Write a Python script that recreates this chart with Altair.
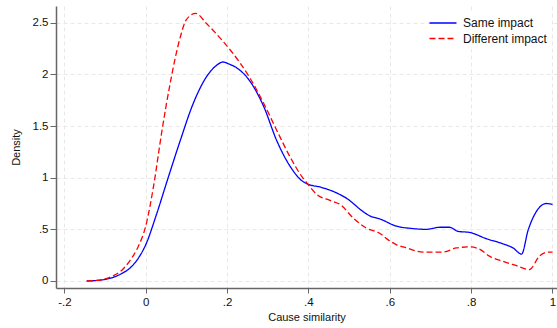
import altair as alt
import pandas as pd

# Same impact (blue solid)
same_x = [-0.145, -0.12, -0.1, -0.08, -0.06, -0.04, -0.02, 0.0, 0.027, 0.052, 0.085, 0.117,
          0.15, 0.175, 0.19, 0.205, 0.225, 0.257, 0.29, 0.322, 0.355, 0.384, 0.4, 0.428,
          0.465, 0.494, 0.535, 0.551, 0.576, 0.617, 0.65, 0.69, 0.723, 0.747, 0.768, 0.796,
          0.837, 0.878, 0.903, 0.924, 0.94, 0.96, 0.985, 1.0]
same_y = [0.0, 0.005, 0.015, 0.035, 0.07, 0.12, 0.21, 0.35, 0.65, 0.96, 1.36, 1.72,
          1.98, 2.09, 2.12, 2.10, 2.06, 1.93, 1.69, 1.36, 1.11, 0.97, 0.935, 0.91,
          0.86, 0.80, 0.67, 0.63, 0.60, 0.53, 0.51, 0.50, 0.52, 0.52, 0.48, 0.47,
          0.41, 0.36, 0.32, 0.26, 0.49, 0.67, 0.75, 0.74]

# Different impact (red dashed)
diff_x = [-0.145, -0.12, -0.1, -0.08, -0.06, -0.04, -0.02, 0.0, 0.019, 0.039, 0.06, 0.085,
          0.1, 0.123, 0.15, 0.19, 0.232, 0.257, 0.29, 0.322, 0.355, 0.384, 0.4, 0.42,
          0.453, 0.478, 0.51, 0.543, 0.576, 0.592, 0.617, 0.641, 0.682, 0.731, 0.764,
          0.796, 0.82, 0.845, 0.878, 0.91, 0.943, 0.968, 0.989, 1.0]
diff_y = [0.0, 0.005, 0.02, 0.05, 0.1, 0.19, 0.32, 0.53, 0.91, 1.43, 1.91, 2.36,
          2.53, 2.59, 2.49, 2.32, 2.11, 1.96, 1.72, 1.46, 1.20, 1.01, 0.93, 0.84,
          0.78, 0.74, 0.61, 0.51, 0.46, 0.41, 0.35, 0.32, 0.28, 0.28, 0.32,
          0.33, 0.31, 0.24, 0.19, 0.15, 0.11, 0.24, 0.28, 0.28]

series = ["Same impact", "Different impact"]
x_ticks = [-0.2, 0, 0.2, 0.4, 0.6, 0.8, 1.0]
y_ticks = [0, 0.5, 1, 1.5, 2, 2.5]

df = pd.concat([
    pd.DataFrame({"x": same_x, "y": same_y, "s": series[0], "o": 0}),
    pd.DataFrame({"x": diff_x, "y": diff_y, "s": series[1], "o": 1}),
])

stata_fmt = ("datum.value == 0 ? '0' : (abs(datum.value) < 1 ? "
             "(datum.value < 0 ? '-' : '') + substring(format(abs(datum.value), '.1f'), 1) "
             ": format(datum.value, '~g'))")

chart = alt.Chart(df).mark_line(strokeWidth=1.3, interpolate="monotone", clip=True).encode(
    x=alt.X("x:Q", title="Cause similarity",
            scale=alt.Scale(domain=[-0.2205, 1.0111], nice=False, zero=False),
            axis=alt.Axis(values=x_ticks, labelExpr=stata_fmt, tickSize=5,
                          labelPadding=3, titlePadding=4)),
    y=alt.Y("y:Q", title="Density",
            scale=alt.Scale(domain=[-0.068, 2.662], nice=False, zero=False),
            axis=alt.Axis(values=y_ticks, labelExpr=stata_fmt, tickSize=6,
                          labelPadding=2, titlePadding=11)),
    color=alt.Color("s:N", title=None,
                    scale=alt.Scale(domain=series, range=["#0000ff", "#ff0000"]),
                    legend=alt.Legend(orient="none", legendX=377, legendY=7,
                                      symbolType="M-4,0H4", symbolSize=45.6,
                                      symbolStrokeWidth=1.3, labelOffset=14,
                                      labelFontSize=12, labelFont="Liberation Sans",
                                      labelColor="#111", fillColor="white",
                                      padding=4, rowPadding=3.5)),
    strokeDash=alt.StrokeDash("s:N", title=None,
                              scale=alt.Scale(domain=series, range=[[1, 0], [6, 3]])),
    order="o:Q",
    detail="s:N",
).properties(
    width=501, height=282,
    background="white",
    autosize=alt.AutoSizeParams(type="none"),
    padding={"left": 56, "top": 6, "right": 0, "bottom": 40},
).configure_view(
    stroke=None
).configure_axis(
    domainColor="#666666", domainWidth=1.5,
    tickColor="#666666", tickWidth=1,
    gridColor="#e8e8e8", gridDash=[4, 3], gridWidth=1,
    labelFont="Liberation Sans", labelFontSize=11.5, labelColor="#111111",
    titleFont="Liberation Sans", titleFontSize=11, titleFontWeight="normal",
    titleColor="#111111",
)

chart.save("out.html", embed_options={"renderer": "svg", "actions": False})
